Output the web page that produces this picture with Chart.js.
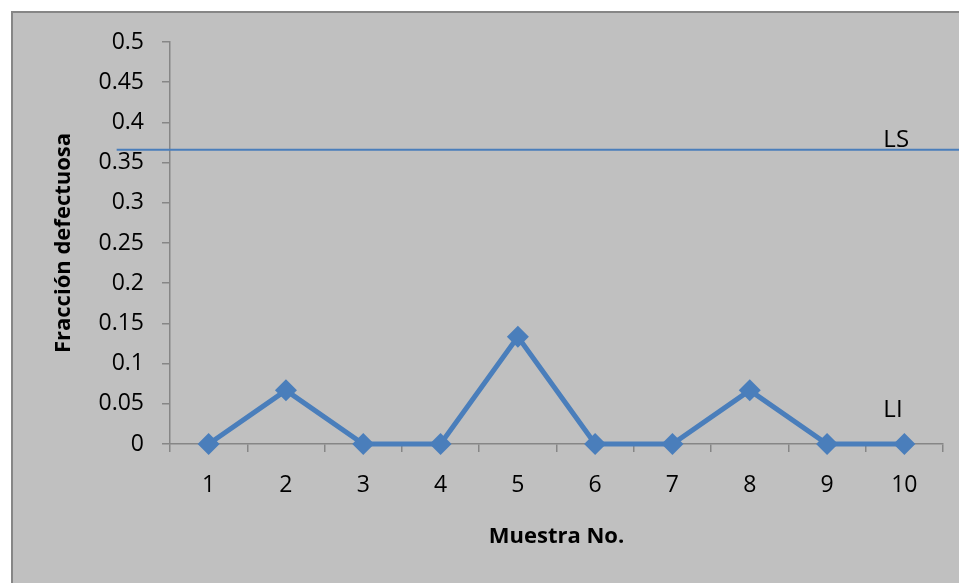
<!DOCTYPE html>
<html>
<head>
<meta charset="utf-8">
<script src="https://cdn.jsdelivr.net/npm/chart.js@4.4.1/dist/chart.umd.min.js"></script>
<style>
  html, body { margin: 0; padding: 0; background: #fff; }
  #wrap { width: 959px; height: 583px; position: relative; }
</style>
</head>
<body>
<div id="wrap"><canvas id="chart" width="959" height="583"></canvas></div>
<script>
// data
const muestras = ['1', '2', '3', '4', '5', '6', '7', '8', '9', '10'];
const fraccion = [0, 0.0667, 0, 0, 0.1333, 0, 0, 0.0667, 0, 0];
const limiteSuperior = 0.366;
const limiteInferior = 0;
const lsSpan = [-0.19, 10.8]; // LS line runs past the plot on both sides

const blue = '#4a7ebb';
const fontFam = '"Open Sans", "Liberation Sans", sans-serif';

// gray background with the border on top / left
const fondo = {
    id: 'fondo',
    beforeDraw(chart) {
        const ctx = chart.ctx;
        ctx.save();
        ctx.fillStyle = '#ffffff';
        ctx.fillRect(0, 0, chart.width, chart.height);
        ctx.fillStyle = '#c0c0c0';
        ctx.fillRect(11, 11, chart.width - 11, chart.height - 11);
        ctx.strokeStyle = '#868686';
        ctx.lineWidth = 2;
        ctx.beginPath();
        ctx.moveTo(12, chart.height);
        ctx.lineTo(12, 12);
        ctx.lineTo(chart.width, 12);
        ctx.stroke();
        ctx.restore();
    }
};

// "LS" / "LI" labels next to their limit values
const etiquetas = {
    id: 'etiquetas',
    afterDatasetsDraw(chart) {
        const ctx = chart.ctx;
        const y = chart.scales.y;
        const x = chart.scales.x;
        const px = x.getPixelForValue(9) - 21;
        ctx.save();
        ctx.fillStyle = '#000';
        ctx.font = '24px ' + fontFam;
        ctx.textAlign = 'left';
        ctx.textBaseline = 'alphabetic';
        ctx.fillText('LS', px, y.getPixelForValue(limiteSuperior) - 3);
        ctx.fillText('LI', px, y.getPixelForValue(limiteInferior) - 27);
        ctx.restore();
    }
};

new Chart(document.getElementById('chart'), {
    type: 'line',
    data: {
        labels: muestras,
        datasets: [
            {
                label: 'Fracción defectuosa',
                data: fraccion,
                borderColor: blue,
                backgroundColor: blue,
                borderWidth: 5,
                pointStyle: 'rectRot',
                pointRadius: 11,
                pointBorderWidth: 0,
                tension: 0,
                clip: false,
                order: 1
            },
            {
                label: 'LS',
                data: lsSpan.map(v => ({ x: v, y: limiteSuperior })),
                xAxisID: 'x2',
                borderColor: blue,
                borderWidth: 2,
                pointRadius: 0,
                clip: false,
                order: 2
            }
        ]
    },
    options: {
        responsive: false,
        animation: false,
        layout: { padding: { top: 42, right: 16, left: 0, bottom: 0 } },
        plugins: {
            legend: { display: false },
            tooltip: { enabled: false }
        },
        scales: {
            x: {
                type: 'category',
                offset: true,
                afterFit(s) { s.height = 139; },
                border: { color: '#868686', width: 1.5 },
                grid: {
                    offset: true,
                    drawOnChartArea: false,
                    color: '#868686',
                    tickLength: 8,
                    lineWidth: 1.5
                },
                ticks: {
                    color: '#000',
                    font: { family: fontFam, size: 23 },
                    padding: 20,
                    maxRotation: 0
                },
                title: {
                    display: true,
                    text: 'Muestra No.',
                    color: '#000',
                    font: { family: fontFam, size: 22, weight: 'bold' },
                    padding: { top: 0, bottom: 33 }
                }
            },
            x2: {
                type: 'linear',
                display: false,
                min: 0.5,
                max: 10.5
            },
            y: {
                min: 0,
                max: 0.5,
                afterFit(s) { s.width = 170; },
                border: { color: '#868686', width: 1.5 },
                grid: {
                    drawOnChartArea: false,
                    color: '#868686',
                    tickLength: 8,
                    lineWidth: 1.5
                },
                ticks: {
                    stepSize: 0.05,
                    color: '#000',
                    font: { family: fontFam, size: 23 },
                    padding: 18,
                    callback: v => String(Number(v.toFixed(2)))
                },
                title: {
                    display: true,
                    text: 'Fracción defectuosa',
                    color: '#000',
                    font: { family: fontFam, size: 22, weight: 'bold' },
                    padding: { top: 51, bottom: 0 }
                }
            }
        }
    },
    plugins: [fondo, etiquetas]
});
</script>
</body>
</html>
